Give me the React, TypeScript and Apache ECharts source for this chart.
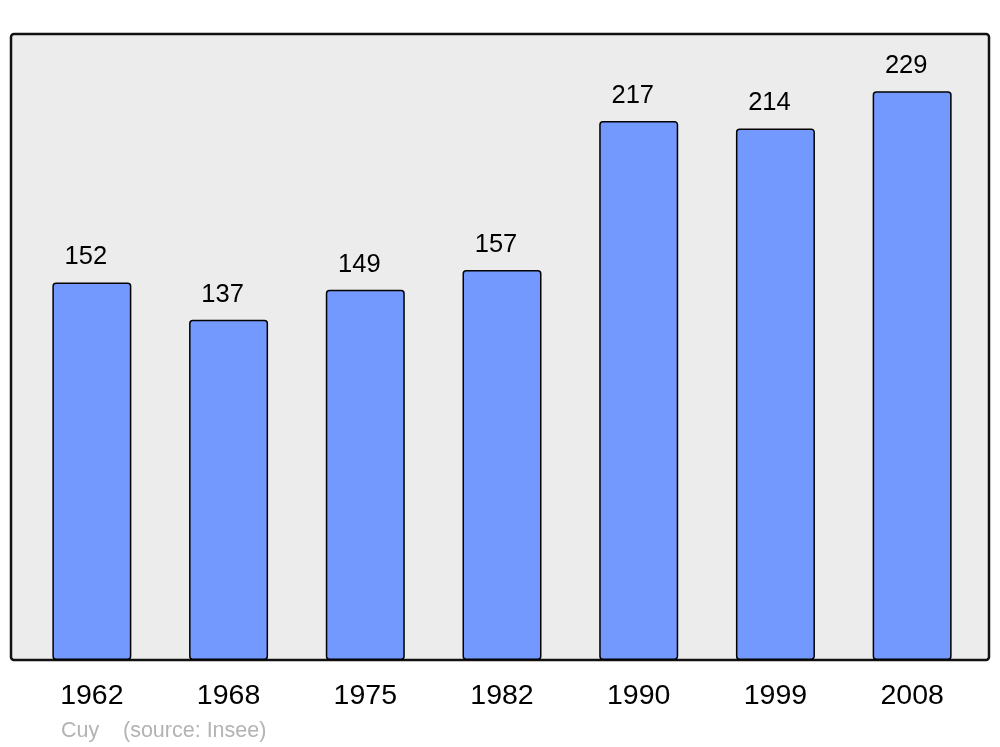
import React, { useEffect, useRef } from "react";
import * as echarts from "echarts";

const years = ["1962", "1968", "1975", "1982", "1990", "1999", "2008"];
const population = [152, 137, 149, 157, 217, 214, 229];
const placeName = "Cuy";
const sourceText = "(source: Insee)";

export default function App() {
  const ref = useRef<HTMLDivElement>(null);
  useEffect(() => {
    if (!ref.current) return;
    const chart = echarts.init(ref.current, null, { renderer: "svg" });
    const font = "'Liberation Sans', Arial, sans-serif";
    chart.setOption({
      animation: false,
      textStyle: { fontFamily: font },
      grid: { left: 23.5, right: 19.5, top: 34, bottom: 87, containLabel: false },
      xAxis: {
        type: "category",
        data: years,
        axisLine: { show: false },
        axisTick: { show: false },
        axisLabel: { fontSize: 28.5, color: "#000", margin: 19, fontFamily: font },
      },
      yAxis: {
        type: "value",
        min: 0,
        max: 252,
        show: false,
        splitLine: { show: false },
      },
      graphic: [
        {
          type: "rect",
          z: -10,
          shape: { x: 11, y: 34, width: 978, height: 626, r: 3 },
          style: { fill: "#ececec", stroke: "#111", lineWidth: 2.5 },
        },
        {
          type: "text",
          x: 61,
          y: 730,
          style: { text: placeName, fontSize: 21.5, fill: "#b3b3b3", fontFamily: font, textVerticalAlign: "middle" },
        },
        {
          type: "text",
          x: 123,
          y: 730,
          style: { text: sourceText, fontSize: 21.5, fill: "#b3b3b3", fontFamily: font, textVerticalAlign: "middle" },
        },
      ],
      series: [
        {
          type: "bar",
          data: population,
          barWidth: 79,
          z: 2,
          itemStyle: { color: "#7399ff", borderColor: "#000", borderWidth: 1.5, borderRadius: 3 },
          label: { show: true, position: "top", distance: 14, offset: [-6, 0], fontSize: 25.5, color: "#000", fontFamily: font },
        },
      ],
    });
    return () => chart.dispose();
  }, []);
  return <div ref={ref} style={{ position: "fixed", left: 0, top: 0, width: 1000, height: 747 }} />;
}
